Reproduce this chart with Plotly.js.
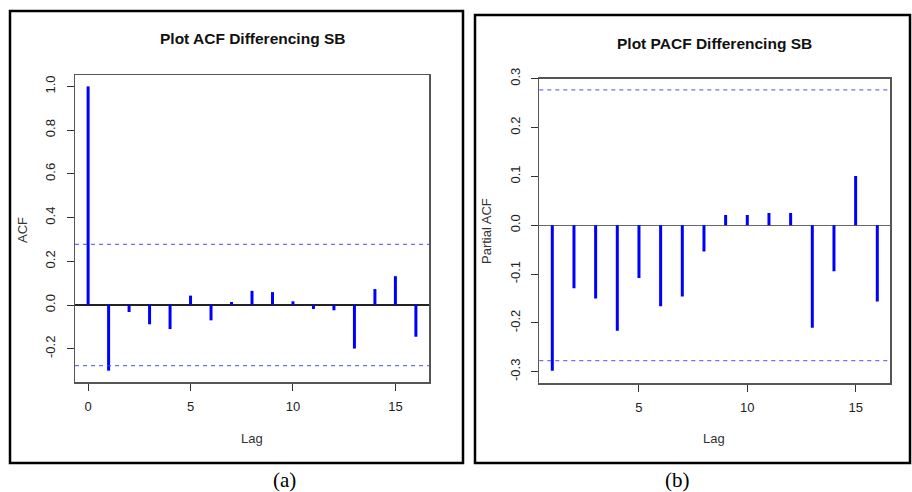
<!DOCTYPE html>
<html>
<head>
<meta charset="utf-8">
<script src="https://cdn.plot.ly/plotly-3.0.1.min.js"></script>
<style>html,body{margin:0;padding:0;background:#fff;}#chart{width:912px;height:492px;}</style>
</head>
<body>
<div id="chart"></div>
<script>
// ACF panel data
const acfLags = [0,1,2,3,4,5,6,7,8,9,10,11,12,13,14,15,16];
const acfValues = [1.0,-0.300,-0.032,-0.088,-0.110,0.043,-0.070,0.014,0.065,0.059,0.017,-0.018,-0.024,-0.199,0.073,0.132,-0.145];
// PACF panel data
const pacfLags = [1,2,3,4,5,6,7,8,9,10,11,12,13,14,15,16];
const pacfValues = [-0.298,-0.129,-0.150,-0.216,-0.108,-0.166,-0.146,-0.054,0.021,0.021,0.025,0.025,-0.210,-0.094,0.101,-0.156];
// confidence bound
const confLimit = 0.277;
const acfTicksX = [0,5,10,15];
const acfTicksY = [-0.2,0.0,0.2,0.4,0.6,0.8,1.0];
const pacfTicksX = [5,10,15];
const pacfTicksY = [-0.3,-0.2,-0.1,0.0,0.1,0.2,0.3];
const titles = ["Plot ACF Differencing SB","Plot PACF Differencing SB"];
const yTitles = ["ACF","Partial ACF"];
const xTitle = "Lag";
const captions = ["(a)","(b)"];

const W = 912, H = 492;
const px = v => v / W;
const py = v => 1 - v / H;

function spikes(lags, vals){
  const x = [], y = [];
  lags.forEach((l,i)=>{ x.push(l,l,null); y.push(0,vals[i],null); });
  return {x, y};
}
const s1 = spikes(acfLags, acfValues);
const s2 = spikes(pacfLags, pacfValues);

const traces = [
  {x:s1.x, y:s1.y, xaxis:'x', yaxis:'y', mode:'lines', line:{color:'#0000ff', width:3}, hoverinfo:'skip', showlegend:false},
  {x:s2.x, y:s2.y, xaxis:'x2', yaxis:'y2', mode:'lines', line:{color:'#0000ff', width:3}, hoverinfo:'skip', showlegend:false}
];

const tickFont = {family:'Liberation Sans, Arial, sans-serif', size:13, color:'#222'};
function xa(domain, range, ticks){
  return {domain, range, tickmode:'array', tickvals:ticks, ticktext:ticks.map(String),
    ticks:'outside', ticklen:7, tickwidth:1, tickcolor:'#333', showgrid:false, zeroline:false,
    showline:true, mirror:true, linecolor:'#555', linewidth:1.5, tickfont:tickFont, ticklabelstandoff:5, fixedrange:true};
}
function ya(domain, range, ticks, anchor, zc){
  return {domain, range, tickmode:'array', tickvals:ticks, ticktext:ticks.map(v=>v.toFixed(1)),
    ticks:'outside', ticklen:7, tickwidth:1, tickcolor:'#333', showgrid:false,
    zeroline:true, zerolinecolor:zc, zerolinewidth:1.3,
    showline:true, mirror:true, linecolor:'#555', linewidth:1.5, tickfont:tickFont, tickangle:-90, ticklabelstandoff:6, fixedrange:true, anchor};
}

const layout = {
  width:W, height:H, margin:{l:0,r:0,t:0,b:0}, paper_bgcolor:'#fff', plot_bgcolor:'#fff',
  showlegend:false,
  xaxis: Object.assign(xa([px(75),px(429)], [-0.64,16.64], acfTicksX), {anchor:'y'}),
  yaxis: ya([py(382),py(75)], [-0.352,1.052], acfTicksY, 'x', '#222'),
  xaxis2: Object.assign(xa([px(539.3),px(890.3)], [0.4,16.6], pacfTicksX), {anchor:'y2'}),
  yaxis2: ya([py(383),py(78.7)], [-0.323,0.300], pacfTicksY, 'x2', '#666'),
  shapes: [
    {type:'rect', xref:'paper', yref:'paper', x0:px(10), x1:px(463), y0:py(11), y1:py(463), line:{color:'#000', width:2.5}},
    {type:'rect', xref:'paper', yref:'paper', x0:px(475), x1:px(910), y0:py(15), y1:py(463), line:{color:'#000', width:2.5}},
    {type:'line', xref:'x domain', yref:'y', x0:0, x1:1, y0:confLimit, y1:confLimit, line:{color:'rgba(60,60,255,0.75)', width:1.3, dash:'4px,4px'}},
    {type:'line', xref:'x domain', yref:'y', x0:0, x1:1, y0:-confLimit, y1:-confLimit, line:{color:'rgba(60,60,255,0.75)', width:1.3, dash:'4px,4px'}},
    {type:'line', xref:'x2 domain', yref:'y2', x0:0, x1:1, y0:confLimit, y1:confLimit, line:{color:'rgba(60,60,255,0.75)', width:1.3, dash:'4px,4px'}},
    {type:'line', xref:'x2 domain', yref:'y2', x0:0, x1:1, y0:-confLimit, y1:-confLimit, line:{color:'rgba(60,60,255,0.75)', width:1.3, dash:'4px,4px'}}
  ],
  annotations: [
    {text:'<b>'+titles[0]+'</b>', xref:'paper', yref:'paper', x:px(252), y:py(39), showarrow:false, xanchor:'center', yanchor:'middle', font:{family:'Liberation Sans, Arial, sans-serif', size:15.5, color:'#111'}},
    {text:'<b>'+titles[1]+'</b>', xref:'paper', yref:'paper', x:px(714), y:py(43), showarrow:false, xanchor:'center', yanchor:'middle', font:{family:'Liberation Sans, Arial, sans-serif', size:15.5, color:'#111'}},
    {text:yTitles[0], xref:'paper', yref:'paper', x:px(22), y:py(230), showarrow:false, textangle:-90, xanchor:'center', yanchor:'middle', font:{family:'Liberation Sans, Arial, sans-serif', size:13, color:'#333'}},
    {text:yTitles[1], xref:'paper', yref:'paper', x:px(486), y:py(231), showarrow:false, textangle:-90, xanchor:'center', yanchor:'middle', font:{family:'Liberation Sans, Arial, sans-serif', size:13, color:'#333'}},
    {text:xTitle, xref:'paper', yref:'paper', x:px(252), y:py(438), showarrow:false, xanchor:'center', yanchor:'middle', font:{family:'Liberation Sans, Arial, sans-serif', size:13, color:'#333'}},
    {text:xTitle, xref:'paper', yref:'paper', x:px(714), y:py(438), showarrow:false, xanchor:'center', yanchor:'middle', font:{family:'Liberation Sans, Arial, sans-serif', size:13, color:'#333'}},
    {text:captions[0], xref:'paper', yref:'paper', x:px(284), y:py(480), showarrow:false, xanchor:'center', yanchor:'middle', font:{family:'Liberation Serif, Times New Roman, serif', size:21, color:'#000'}},
    {text:captions[1], xref:'paper', yref:'paper', x:px(677), y:py(480), showarrow:false, xanchor:'center', yanchor:'middle', font:{family:'Liberation Serif, Times New Roman, serif', size:21, color:'#000'}}
  ]
};

Plotly.newPlot('chart', traces, layout, {staticPlot:true, displayModeBar:false});
</script>
</body>
</html>
